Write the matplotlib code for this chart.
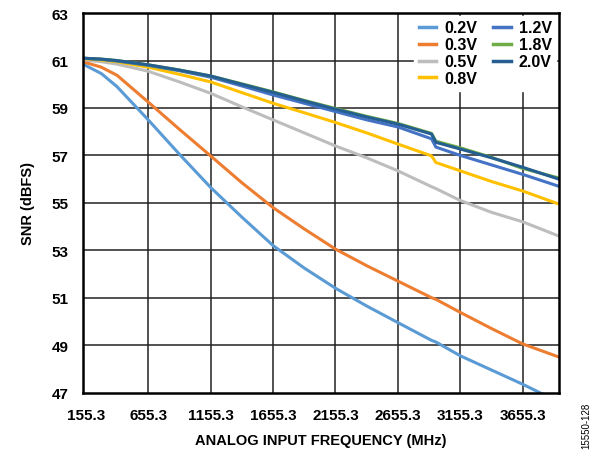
import matplotlib
matplotlib.use("Agg")
import matplotlib.pyplot as plt

# SNR vs analog input frequency, one trace per full-scale setting
FREQ = [133, 280, 405, 655, 905, 1155, 1405, 1655, 1905, 2155, 2405, 2655,
        2925, 2960, 3155, 3405, 3655, 3944]

SNR_0V2 = [60.85, 60.45, 59.9, 58.5, 57.05, 55.65, 54.4, 53.2, 52.25, 51.4, 50.65,
           49.95, 49.2, 49.13, 48.55, 47.95, 47.35, 46.6]
SNR_0V3 = [60.95, 60.72, 60.38, 59.25, 58.1, 56.98, 55.85, 54.8, 53.9, 53.05, 52.35,
           51.7, 51.0, 50.93, 50.38, 49.7, 49.05, 48.5]
SNR_0V5 = [61.03, 60.95, 60.85, 60.55, 60.1, 59.62, 59.05, 58.5, 57.95, 57.4, 56.9,
           56.35, 55.68, 55.6, 55.1, 54.6, 54.2, 53.6]
SNR_0V8 = [61.08, 61.02, 60.95, 60.72, 60.42, 60.1, 59.65, 59.2, 58.8, 58.39, 57.95,
           57.48, 56.98, 56.7, 56.35, 55.9, 55.5, 54.95]
SNR_1V2 = [61.1, 61.05, 60.98, 60.8, 60.57, 60.3, 59.93, 59.55, 59.2, 58.85, 58.5,
           58.2, 57.7, 57.35, 57.0, 56.6, 56.2, 55.7]
SNR_1V8 = [61.1, 61.06, 61.0, 60.82, 60.6, 60.35, 60.02, 59.68, 59.32, 58.98, 58.65,
           58.35, 57.93, 57.6, 57.32, 56.92, 56.45, 56.05]
SNR_2V0 = [61.1, 61.06, 61.0, 60.82, 60.6, 60.35, 60.0, 59.66, 59.3, 58.95, 58.62,
           58.32, 57.9, 57.55, 57.27, 56.9, 56.5, 56.0]

LABELS = ["0.2V", "0.3V", "0.5V", "0.8V", "1.2V", "1.8V", "2.0V"]
SERIES = [SNR_0V2, SNR_0V3, SNR_0V5, SNR_0V8, SNR_1V2, SNR_1V8, SNR_2V0]
COLORS = ["#5B9BD5", "#ED7D31", "#BDBDBD", "#FFC000", "#4472C4", "#70AD47", "#255E91"]

XTICKS = [155.3, 655.3, 1155.3, 1655.3, 2155.3, 2655.3, 3155.3, 3655.3]
YTICKS = [47, 49, 51, 53, 55, 57, 59, 61, 63]

plt.rcParams["font.family"] = ["Liberation Sans", "DejaVu Sans"]
plt.rcParams["font.weight"] = "bold"

fig = plt.figure(figsize=(5.99, 4.56), dpi=100)
ax = fig.add_axes([0.138, 0.137, 0.795, 0.832])

for ys, lab, col in zip(SERIES, LABELS, COLORS):
    ax.plot(FREQ, ys, color=col, lw=2.2, label=lab)

ax.set_xlim(130, 3945)
ax.set_ylim(47, 63)
ax.set_xticks(XTICKS)
ax.set_xticklabels([f"{t:.1f}" for t in XTICKS])
ax.set_yticks(YTICKS)
ax.tick_params(length=0, labelsize=11)
ax.tick_params(axis="x", pad=11)
ax.tick_params(axis="y", pad=10)

# gridlines (first x tick sits right next to the left spine, so skip it)
for y in YTICKS[1:-1]:
    ax.axhline(y, color="#222222", lw=1.1, zorder=0)
for x in XTICKS[1:]:
    ax.axvline(x, color="#222222", lw=1.1, zorder=0)

for sp in ax.spines.values():
    sp.set_linewidth(1.8)
    sp.set_color("black")

ax.set_xlabel("ANALOG INPUT FREQUENCY (MHz)", fontsize=10.5, fontweight="bold", labelpad=8)
ax.set_ylabel("SNR (dBFS)", fontsize=10.5, fontweight="bold", labelpad=12)

leg = ax.legend(loc="upper right", ncol=2, fontsize=11.5, frameon=True,
                handlelength=1.1, handletextpad=0.5, columnspacing=1.0,
                labelspacing=0.12, borderaxespad=0.15, borderpad=0.3,
                fancybox=False)
leg.get_frame().set_facecolor("white")
leg.get_frame().set_edgecolor("white")
leg.get_frame().set_alpha(1.0)
for line in leg.get_lines():
    line.set_linewidth(2.5)

fig.text(0.978, 0.065, "15550-128", rotation=90, fontsize=7, fontweight="normal",
         ha="center", va="center")

fig.savefig("out.png", dpi=100)
